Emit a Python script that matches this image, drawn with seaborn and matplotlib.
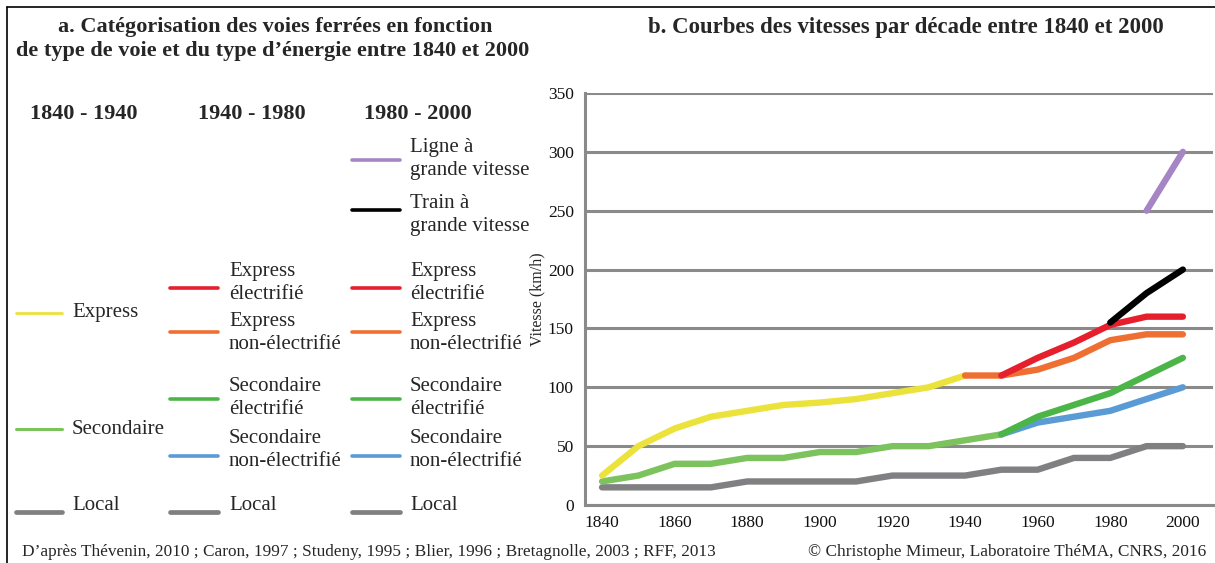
import numpy as np
import pandas as pd
import matplotlib
matplotlib.use("Agg")
import matplotlib.pyplot as plt
from matplotlib.lines import Line2D
import seaborn as sns

sns.set_theme(style="white")
plt.rcParams["font.family"] = ["Liberation Serif", "DejaVu Serif"]

# Decades on the x axis
decades = list(range(1840, 2001, 10))
nan = np.nan

# Speeds (km/h) per decade for each track / energy category
local = [15, 15, 15, 15, 20, 20, 20, 20, 25, 25, 25, 30, 30, 40, 40, 50, 50]
secondaire = [20, 25, 35, 35, 40, 40, 45, 45, 50, 50, 55, 60, nan, nan, nan, nan, nan]
secondaire_non_elec = [nan] * 11 + [60, 70, 75, 80, 90, 100]
secondaire_elec = [nan] * 11 + [60, 75, 85, 95, 110, 125]
express = [25, 50, 65, 75, 80, 85, 87, 90, 95, 100, 110, nan, nan, nan, nan, nan, nan]
express_non_elec = [nan] * 10 + [110, 110, 115, 125, 140, 145, 145]
express_elec = [nan] * 11 + [110, 125, 138, 153, 160, 160]
tgv = [nan] * 14 + [155, 180, 200]
lgv = [nan] * 15 + [250, 300]

series = [
    ("Local", local, "#808082"),
    ("Secondaire", secondaire, "#7cc35e"),
    ("Secondaire non-électrifié", secondaire_non_elec, "#5b9bd5"),
    ("Secondaire électrifié", secondaire_elec, "#4cb548"),
    ("Express", express, "#ebe33c"),
    ("Express non-électrifié", express_non_elec, "#ef6f33"),
    ("Express électrifié", express_elec, "#e61f2c"),
    ("Train à grande vitesse", tgv, "#000000"),
    ("Ligne à grande vitesse", lgv, "#a585c4"),
]
colors = {name: c for name, _, c in series}

W, H = 1215, 563
fig = plt.figure(figsize=(W / 100, H / 100), dpi=100)
fig.patch.set_facecolor("white")

# ---------- panel b: speed curves ----------
ax = fig.add_axes([585 / W, 1 - 505 / H, (1213 - 585) / W, (505 - 93) / H])
for name, vals, col in series:
    df = pd.DataFrame({"annee": decades, "vitesse": vals}).dropna()
    sns.lineplot(data=df, x="annee", y="vitesse", ax=ax, color=col,
                 linewidth=4.6, estimator=None, sort=False,
                 solid_capstyle="round", solid_joinstyle="round")

ax.set_xlim(1835.3, 2008.3)
ax.set_ylim(0, 350)
ax.set_xticks(range(1840, 2001, 20))
ax.set_yticks(range(0, 351, 50))
ax.yaxis.grid(True, color="#8a8a8a", linewidth=2.2)
ax.set_axisbelow(True)
for s in ["top", "right"]:
    ax.spines[s].set_visible(False)
ax.spines["left"].set_color("#8a8a8a")
ax.spines["left"].set_linewidth(2.2)
ax.spines["bottom"].set_color("#8a8a8a")
ax.spines["bottom"].set_linewidth(2.2)
ax.tick_params(axis="both", length=0, labelsize=12.5, colors="#111111")
ax.tick_params(axis="y", pad=8)
ax.tick_params(axis="x", pad=7.5)
ax.set_xlabel("")
ax.set_ylabel("Vitesse (km/h)", fontsize=11.5, labelpad=2)

# ---------- titles ----------
fig.text(275 / W, 1 - 27 / H, "a. Catégorisation des voies ferrées en fonction",
         ha="center", va="center", fontsize=16, fontweight="bold")
fig.text(273 / W, 1 - 51 / H, "de type de voie et du type d’énergie entre 1840 et 2000",
         ha="center", va="center", fontsize=16, fontweight="bold")
fig.text(906 / W, 1 - 27 / H, "b. Courbes des vitesses par décade entre 1840 et 2000",
         ha="center", va="center", fontsize=16.4, fontweight="bold")

# ---------- panel a: category key ----------
periods = [("1840 - 1940", 84), ("1940 - 1980", 252), ("1980 - 2000", 418)]
for lab, xc in periods:
    fig.text(xc / W, 1 - 114 / H, lab, ha="center", va="center",
             fontsize=16, fontweight="bold")

def key(x0, x1, xt, yline, ytext, name, label, lw=2.6):
    fig.add_artist(Line2D([x0 / W, x1 / W], [1 - yline / H, 1 - yline / H],
                          color=colors[name], linewidth=lw))
    fig.text(xt / W, 1 - ytext / H, label, ha="left", va="center",
             fontsize=15, linespacing=1.32)

# column 1840 - 1940
key(16, 62, 72, 313, 313, "Express", "Express", lw=2.0)
key(16, 62, 72, 429, 429, "Secondaire", "Secondaire", lw=2.2)
key(16, 62, 72, 512, 505, "Local", "Local", lw=3.4)

# columns 1940 - 1980 and 1980 - 2000
for x0, x1, xt in [(170, 218, 229), (352, 400, 410)]:
    key(x0, x1, xt, 288, 283, "Express électrifié", "Express\nélectrifié")
    key(x0, x1, xt, 332, 333, "Express non-électrifié", "Express\nnon-électrifié")
    key(x0, x1, xt, 399, 398, "Secondaire électrifié", "Secondaire\nélectrifié")
    key(x0, x1, xt, 456, 450, "Secondaire non-électrifié", "Secondaire\nnon-électrifié")
    key(x0, x1, xt, 512, 505, "Local", "Local", lw=3.4)

key(352, 400, 410, 160, 159, "Ligne à grande vitesse", "Ligne à\ngrande vitesse")
key(352, 400, 410, 210, 215, "Train à grande vitesse", "Train à\ngrande vitesse")

# ---------- sources and credits ----------
fig.text(22 / W, 1 - 552 / H,
         "D’après Thévenin, 2010 ; Caron, 1997 ; Studeny, 1995 ; Blier, 1996 ; "
         "Bretagnolle, 2003 ; RFF, 2013",
         ha="left", va="center", fontsize=12.4)
fig.text(1206 / W, 1 - 552 / H, "© Christophe Mimeur, Laboratoire ThéMA, CNRS, 2016",
         ha="right", va="center", fontsize=12.4)

# frame lines along the top and left edges
fig.add_artist(Line2D([7 / W, 1], [1 - 7 / H, 1 - 7 / H], color="black", linewidth=1.2))
fig.add_artist(Line2D([7 / W, 7 / W], [0, 1 - 7 / H], color="black", linewidth=1.2))

fig.savefig("out.png", dpi=100, facecolor="white")
